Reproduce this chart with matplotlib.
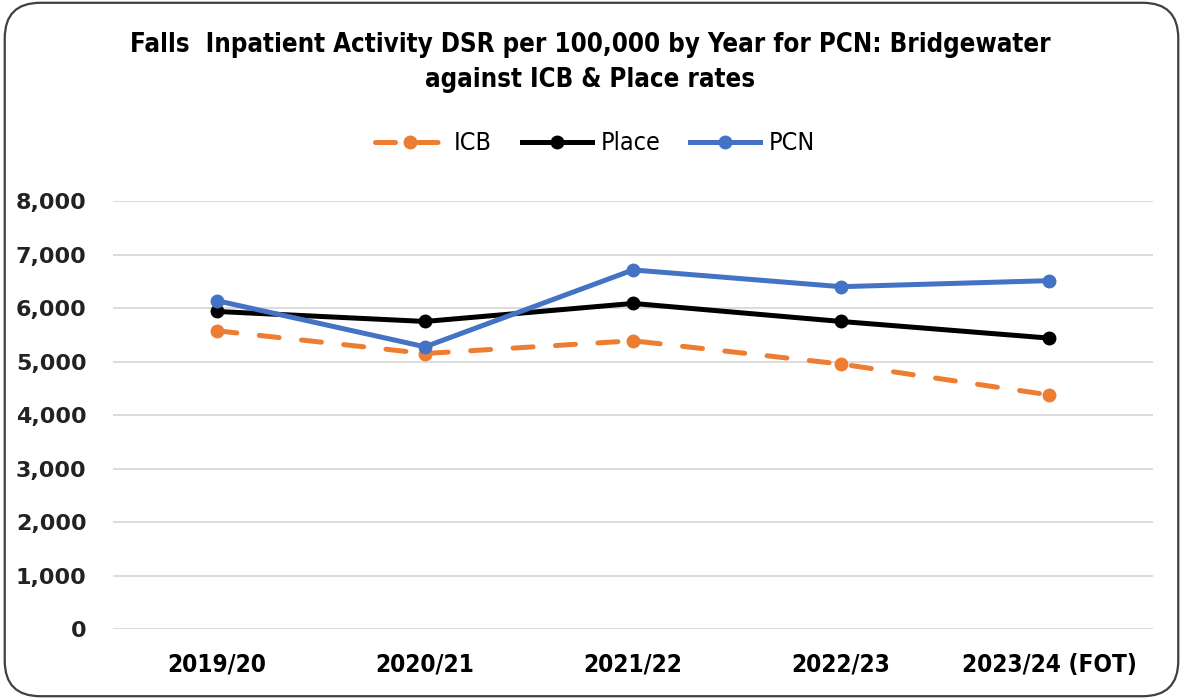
import matplotlib.pyplot as plt
from matplotlib.patches import FancyBboxPatch
from matplotlib.ticker import FuncFormatter

years = ["2019/20", "2020/21", "2021/22", "2022/23", "2023/24 (FOT)"]
icb = [5575, 5150, 5388, 4953, 4376]
place = [5936, 5749, 6086, 5749, 5438]
pcn = [6137, 5275, 6712, 6399, 6512]

narrow = ["DejaVu Sans"]

fig = plt.figure(figsize=(11.83, 6.99), dpi=100)
ax = fig.add_axes([0.0955, 0.1001, 0.8792, 0.6123])

# rounded frame round the whole chart
frame = FancyBboxPatch((0.004, 0.004), 0.992, 0.992, boxstyle="round,pad=0,rounding_size=0.03",
                       transform=fig.transFigure, fill=False, edgecolor="#404040", lw=1.6,
                       mutation_aspect=1183 / 699)
fig.patches.append(frame)

x = range(len(years))
ax.plot(x, icb, color="#ED7D31", lw=3.6, marker="o", ms=9, dashes=(4, 4.5),
        dash_capstyle="round", label="ICB")
ax.plot(x, place, color="black", lw=3.6, marker="o", ms=9, label="Place")
ax.plot(x, pcn, color="#4472C4", lw=3.6, marker="o", ms=9, label="PCN")

ax.set_xlim(-0.5, len(years) - 0.5)
ax.set_ylim(0, 8000)
ax.set_yticks(range(0, 8001, 1000))
ax.yaxis.set_major_formatter(FuncFormatter(lambda v, p: f"{int(v):,}"))
ax.grid(axis="y", color="#D9D9D9", lw=1.3)
ax.set_axisbelow(True)
for s in ax.spines.values():
    s.set_visible(False)
ax.tick_params(length=0)
ax.tick_params(axis="y", pad=19)
ax.tick_params(axis="x", pad=17)
ax.set_xticks(list(x))
ax.set_xticklabels(years, family=narrow, fontweight="bold", fontsize=17.5, fontstretch="condensed")
for t in ax.get_yticklabels():
    t.set_fontweight("bold")
    t.set_fontsize(16)
    t.set_color("#222222")

fig.text(0.499, 0.935, "Falls  Inpatient Activity DSR per 100,000 by Year for PCN: Bridgewater",
         ha="center", va="center", family=narrow, fontweight="bold", fontsize=18.5,
         fontstretch="condensed")
fig.text(0.499, 0.885, "against ICB & Place rates",
         ha="center", va="center", family=narrow, fontweight="bold", fontsize=18.5,
         fontstretch="condensed")

fig.legend(loc="center", bbox_to_anchor=(0.503, 0.795), ncol=3, frameon=False,
           prop={"family": narrow, "size": 18, "stretch": "condensed"}, handlelength=2.8,
           columnspacing=1.2, handletextpad=0.35)

plt.savefig("out.png", dpi=100)
